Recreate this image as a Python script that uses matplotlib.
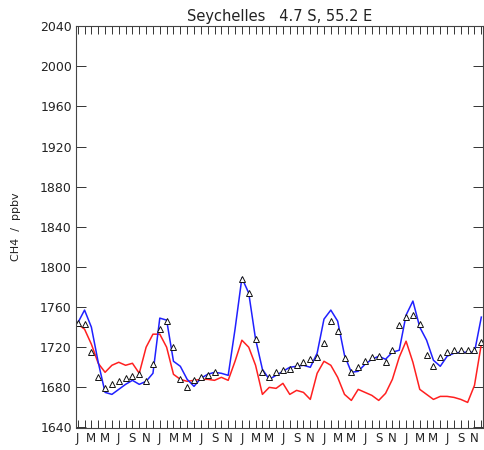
import numpy as np
import matplotlib
matplotlib.use("Agg")
import matplotlib.pyplot as plt
from matplotlib.ticker import FixedLocator

nan = np.nan

# monthly means, Jan of year 1 .. Dec of year 5
months = np.arange(60)
month_letters = ["J", "M", "M", "J", "S", "N"]

model_blue = [1744, 1757, 1740, 1705, 1675, 1673, 1678, 1683, 1687, 1683, 1686, 1694,
              1749, 1747, 1706, 1701, 1688, 1681, 1689, 1693, 1695, 1694, 1692, 1738,
              1789, 1774, 1728, 1698, 1688, 1692, 1696, 1700, 1701, 1702, 1700, 1714,
              1748, 1757, 1746, 1712, 1695, 1696, 1703, 1708, 1711, 1708, 1715, 1717,
              1752, 1766, 1740, 1727, 1707, 1701, 1711, 1714, 1715, 1715, 1715, 1750]

model_red = [1743, 1738, 1723, 1704, 1695, 1702, 1705, 1702, 1704, 1694, 1720, 1733,
             1733, 1720, 1693, 1688, 1686, 1687, 1688, 1688, 1687, 1690, 1687, 1706,
             1727, 1720, 1702, 1673, 1680, 1679, 1684, 1673, 1677, 1675, 1668, 1694,
             1706, 1702, 1690, 1673, 1667, 1678, 1675, 1672, 1667, 1674, 1688, 1710,
             1726, 1705, 1678, 1673, 1668, 1671, 1671, 1670, 1668, 1665, 1682, 1723]

observed = [1744, 1743, 1715, 1690, 1679, 1683, 1686, 1689, 1691, 1693, 1686, 1703,
            1738, 1746, 1720, 1688, 1680, 1687, 1690, 1692, 1695, nan, nan, nan,
            1788, 1774, 1728, 1695, 1690, 1695, 1697, 1698, 1702, 1705, 1708, 1710,
            1724, 1746, 1736, 1709, 1695, 1700, 1706, 1710, 1711, 1705, 1717, 1742,
            1750, 1752, 1743, 1712, 1701, 1710, 1715, 1717, 1717, 1717, 1717, 1725]

y_ticks = np.arange(1640, 2041, 40)

plt.rcParams["font.family"] = ["DejaVu Sans"]

fig = plt.figure(figsize=(4.84, 4.5), dpi=100)
ax = fig.add_axes([0.157, 0.05, 0.841, 0.892])

ax.plot(months, model_red, color="#ff2020", lw=1.1)
ax.plot(months, model_blue, color="#2020ff", lw=1.1)
ax.plot(months, observed, ls="none", marker="^", ms=4.6, mfc="white",
        mec="#111111", mew=0.7)

ax.set_xlim(-0.25, 59.25)
ax.set_ylim(1640, 2040)

ax.xaxis.set_major_locator(FixedLocator(months[::2]))
ax.xaxis.set_minor_locator(FixedLocator(months))
ax.set_xticklabels([month_letters[i % 6] for i in range(30)], fontsize=8.5)
ax.set_yticks(y_ticks)
ax.set_yticklabels([str(v) for v in y_ticks], fontsize=9)

ax.tick_params(axis="x", which="both", direction="in", length=6, width=0.7,
               top=True, pad=3, colors="#333333", labelcolor="#222222")
ax.tick_params(axis="y", which="major", direction="in", length=7, width=0.7,
               right=True, pad=3, colors="#333333", labelcolor="#222222")
for sp in ax.spines.values():
    sp.set_linewidth(0.8)
    sp.set_color("#444444")

ax.set_title("Seychelles   4.7 S, 55.2 E", fontsize=10.5, pad=4, color="#222222")
ax.set_ylabel("CH4  /  ppbv", fontsize=8, labelpad=14, color="#222222")

fig.savefig("out.png", dpi=100)
